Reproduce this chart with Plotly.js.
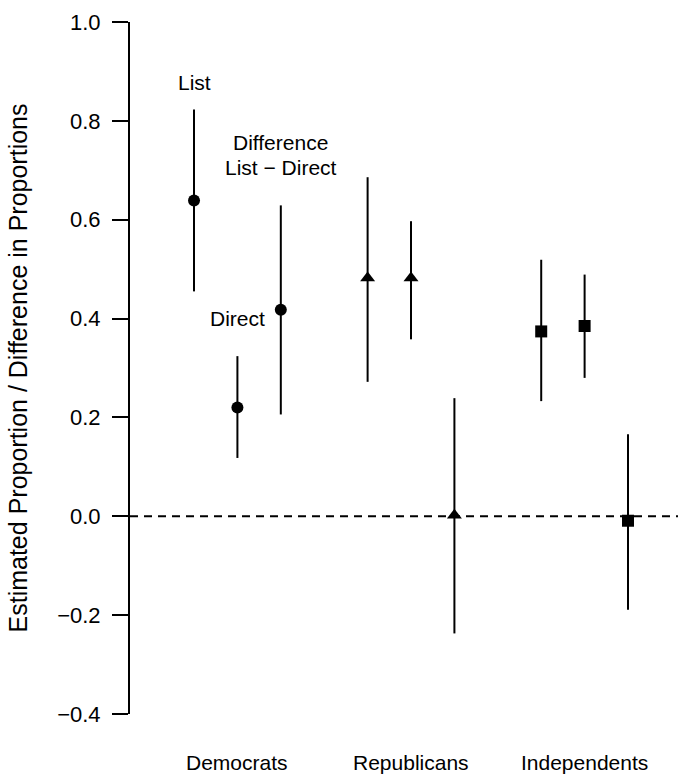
<!DOCTYPE html>
<html>
<head>
<meta charset="utf-8">
<script src="https://cdn.plot.ly/plotly-3.0.1.min.js"></script>
<style>html,body{margin:0;padding:0;background:#fff;}#chart{width:678px;height:783px;}</style>
</head>
<body>
<div id="chart"></div>
<script>
// ---- data ----
const groups = ["Democrats", "Republicans", "Independents"];
const estimateTypes = ["List", "Direct", "Difference"];
const symbols = ["circle", "triangle-up", "square"];

const demEstimate = [0.639, 0.220, 0.418];
const demLower    = [0.455, 0.118, 0.206];
const demUpper    = [0.823, 0.324, 0.629];

const repEstimate = [0.482, 0.482, 0.002];
const repLower    = [0.272, 0.358, -0.237];
const repUpper    = [0.686, 0.597, 0.239];

const indEstimate = [0.374, 0.385, -0.009];
const indLower    = [0.233, 0.280, -0.189];
const indUpper    = [0.519, 0.489, 0.166];

const yTickVals = [-0.4, -0.2, 0.0, 0.2, 0.4, 0.6, 0.8, 1.0];

// ---- build traces ----
const FONT = "Liberation Sans, Arial, Helvetica, sans-serif";
const series = [
  {est: demEstimate, lo: demLower, hi: demUpper},
  {est: repEstimate, lo: repLower, hi: repUpper},
  {est: indEstimate, lo: indLower, hi: indUpper}
];
const markerSizes = [12, 13, 12];

const traces = series.map((s, g) => {
  const x = estimateTypes.map((_, i) => g * 4 + i + 1);
  return {
    type: "scatter",
    mode: "markers",
    name: groups[g],
    x: x,
    y: s.est,
    text: estimateTypes,
    marker: {symbol: symbols[g], size: markerSizes[g], color: "#000"},
    error_y: {
      type: "data",
      symmetric: false,
      array: s.est.map((v, i) => s.hi[i] - v),
      arrayminus: s.est.map((v, i) => v - s.lo[i]),
      width: 0,
      thickness: 2,
      color: "#000"
    },
    cliponaxis: false,
    showlegend: false
  };
});

const groupCenters = groups.map((_, g) => g * 4 + 2);

const annotations = groups.map((name, g) => ({
  text: name,
  x: groupCenters[g],
  xref: "x",
  y: 0,
  yref: "paper",
  yanchor: "middle",
  yshift: -48,
  showarrow: false,
  font: {family: FONT, size: 21, color: "#000"}
}));

annotations.push(
  {text: "List", x: 1, y: 0.878, xref: "x", yref: "y", showarrow: false,
   font: {family: FONT, size: 21, color: "#000"}},
  {text: "Difference", x: 3, y: 0.756, xref: "x", yref: "y", showarrow: false,
   font: {family: FONT, size: 21, color: "#000"}},
  {text: "List \u2212 Direct", x: 3, y: 0.706, xref: "x", yref: "y", showarrow: false,
   font: {family: FONT, size: 21, color: "#000"}},
  {text: "Direct", x: 2, y: 0.400, xref: "x", yref: "y", showarrow: false,
   font: {family: FONT, size: 21, color: "#000"}}
);

const layout = {
  width: 678,
  height: 783,
  margin: {l: 130, r: 0, t: 22, b: 69, pad: 0},
  paper_bgcolor: "#fff",
  plot_bgcolor: "#fff",
  font: {family: FONT, size: 20, color: "#000"},
  showlegend: false,
  xaxis: {
    range: [-0.475, 12.152],
    showgrid: false, zeroline: false, showline: false,
    showticklabels: false, ticks: "", fixedrange: true
  },
  yaxis: {
    range: [-0.4, 1.0],
    tickvals: yTickVals,
    tickformat: ".1f",
    ticks: "outside",
    ticklen: 16,
    tickwidth: 2,
    tickcolor: "#000",
    ticklabelstandoff: 7,
    showline: true,
    linewidth: 2,
    linecolor: "#000",
    showgrid: false,
    zeroline: false,
    tickfont: {family: FONT, size: 22, color: "#000"},
    title: {
      text: "Estimated Proportion / Difference in Proportions",
      font: {family: FONT, size: 25, color: "#000"},
      standoff: 22
    },
    automargin: false,
    fixedrange: true
  },
  shapes: [{
    type: "line", xref: "paper", yref: "y",
    x0: 0, x1: 1, y0: 0, y1: 0,
    line: {color: "#000", width: 2, dash: "8px,6px"}
  }],
  annotations: annotations
};

Plotly.newPlot("chart", traces, layout, {displayModeBar: false, staticPlot: true});
</script>
</body>
</html>
